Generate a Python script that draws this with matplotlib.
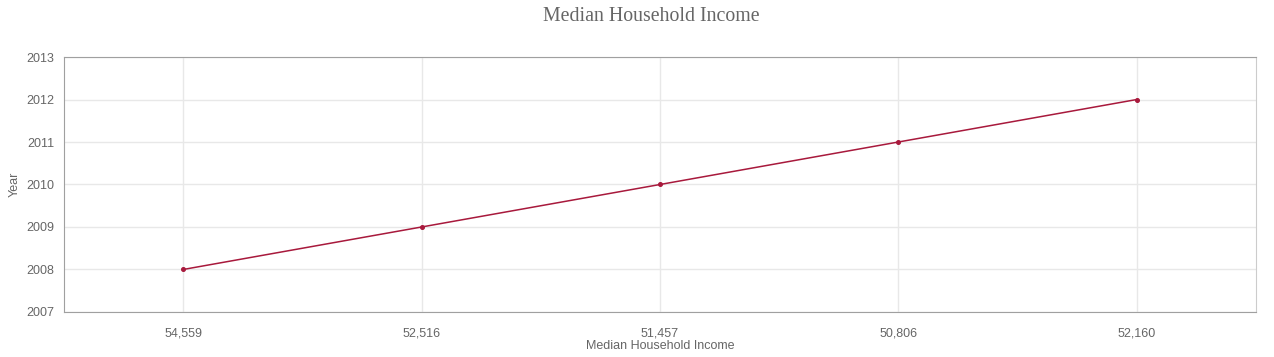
import matplotlib
matplotlib.use("Agg")
import matplotlib.pyplot as plt

plt.rcParams["font.family"] = ["Liberation Sans", "DejaVu Sans"]

# Data
income_labels = ["54,559", "52,516", "51,457", "50,806", "52,160"]
years = [2008, 2009, 2010, 2011, 2012]

line_color = "#a8193c"
text_color = "#666666"

fig = plt.figure(figsize=(12.74, 3.57), dpi=100)
ax = fig.add_axes([0.0502, 0.1261, 0.9357, 0.7142])

x = list(range(len(income_labels)))
ax.plot(x, years, color=line_color, linewidth=1.1, marker="o", markersize=2.6, zorder=3)

ax.set_xlim(-0.5, len(income_labels) - 0.5)
ax.set_ylim(2007, 2013)
ax.set_xticks(x)
ax.set_xticklabels(income_labels)
ax.set_yticks(range(2007, 2014))
ax.set_yticklabels([str(y) for y in range(2007, 2014)])

ax.grid(True, color="#e8e8e8", linewidth=1)
ax.set_axisbelow(True)
ax.tick_params(length=0, labelsize=9, colors=text_color)
ax.tick_params(axis="x", pad=11)
ax.tick_params(axis="y", pad=7)
for side in ["left", "bottom", "top"]:
    ax.spines[side].set_color("#a0a0a0")
ax.spines["right"].set_color("#cccccc")

ax.set_xlabel("Median Household Income", fontsize=9, color=text_color, labelpad=0.5)
ax.set_ylabel("Year", fontsize=9, color=text_color, labelpad=4)

fig.text(0.511, 0.955, "Median Household Income", ha="center", va="center",
         fontsize=14.3, color="#666666", family="Liberation Serif")

fig.savefig("out.png", dpi=100)
